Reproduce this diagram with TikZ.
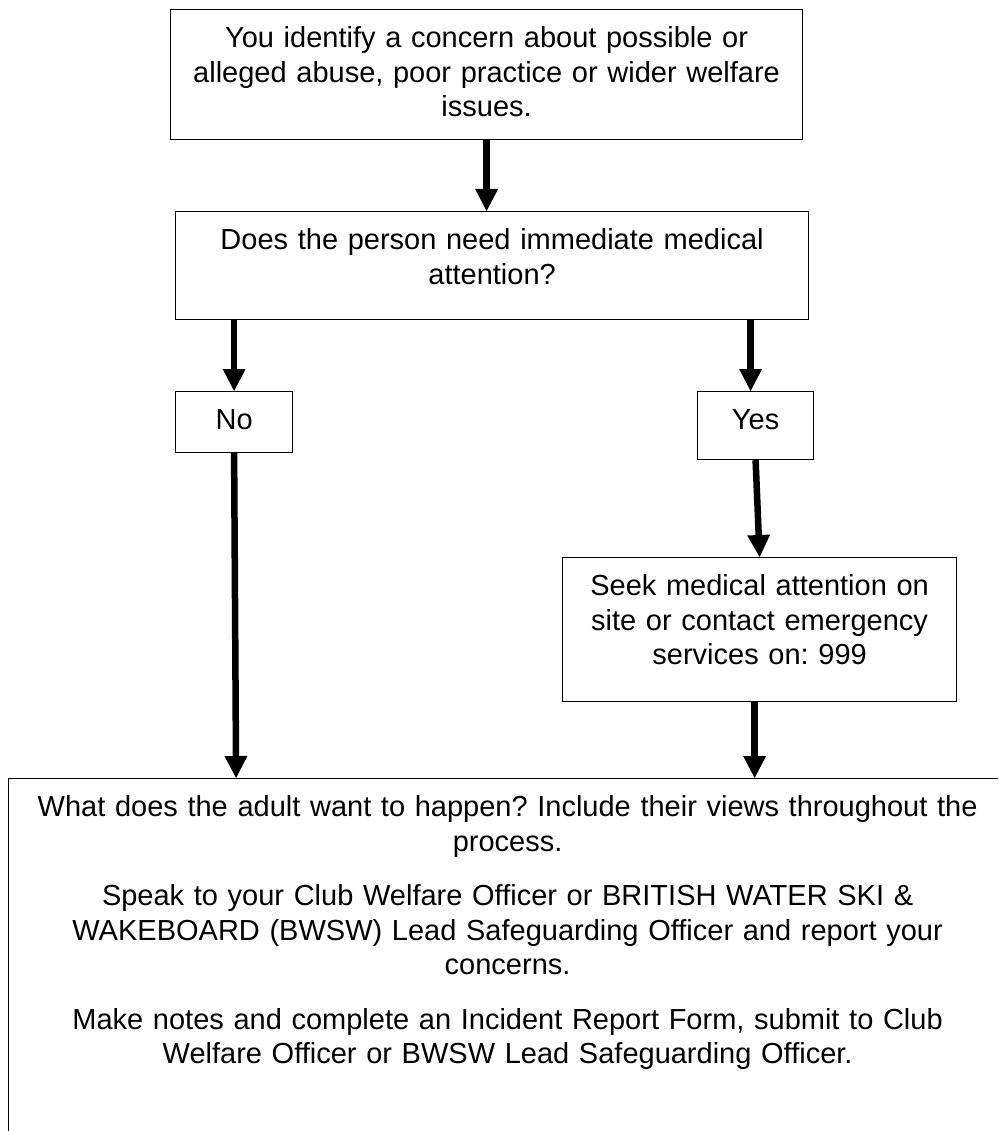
\documentclass[tikz,border=0pt]{standalone}
\usepackage{fontspec}
\setmainfont{Liberation Sans}
\usepackage{tikz}
\usetikzlibrary{arrows.meta}
\frenchspacing

\begin{document}
\begin{tikzpicture}[
    x=1pt, y=-1pt,
    flowbox/.style={draw, line width=1.2pt, anchor=north west, inner sep=0pt,
        align=center, text height=38pt, font=\fontsize{29}{34.5}\selectfont},
    flowarrow/.style={line width=6.5pt, -{Triangle[length=22pt, width=23pt, line width=0pt]}}
]
\useasboundingbox (0,0) rectangle (998,1131);
\clip (0,0) rectangle (998,1131);

% Define boxes
\node[flowbox, text width=632pt, text depth=92pt] (concern) at (170,9)
    {You identify a concern about possible or\\alleged abuse, poor practice or wider welfare\\issues.};
\node[flowbox, text width=633pt, text depth=70pt] (medq) at (175,211)
    {Does the person need immediate medical\\attention?};
\node[flowbox, text width=117pt, text depth=23pt] (no) at (175,391) {No};
\node[flowbox, text width=116pt, text depth=30pt] (yes) at (697,391) {Yes};
\node[flowbox, text width=394pt, text depth=106pt] (seek) at (562,557)
    {Seek medical attention on\\site or contact emergency\\services on: 999};
\node[flowbox, text width=998pt, text depth=340pt] (report) at (8,778)
    {What does the adult want to happen? Include their views throughout the\\process.\\[20pt]
     Speak to your Club Welfare Officer or BRITISH WATER SKI \&\\WAKEBOARD (BWSW) Lead Safeguarding Officer and report your\\concerns.\\[20pt]
     Make notes and complete an Incident Report Form, submit to Club\\Welfare Officer or BWSW Lead Safeguarding Officer.};

% Define arrows
\draw[flowarrow] (concern.south) -- (concern.south |- medq.north);
\draw[flowarrow] (no.north |- medq.south) -- (no.north);
\draw[flowarrow] ([xshift=-5pt]yes.north |- medq.south) -- ([xshift=-5pt]yes.north);
\draw[flowarrow] (yes.south) -- (seek.north);
\draw[flowarrow] (no.south) -- ([xshift=2pt]no.south |- report.north);
\draw[flowarrow] ([xshift=-5pt]seek.south) -- ([xshift=-5pt]seek.south |- report.north);

\end{tikzpicture}
\end{document}
